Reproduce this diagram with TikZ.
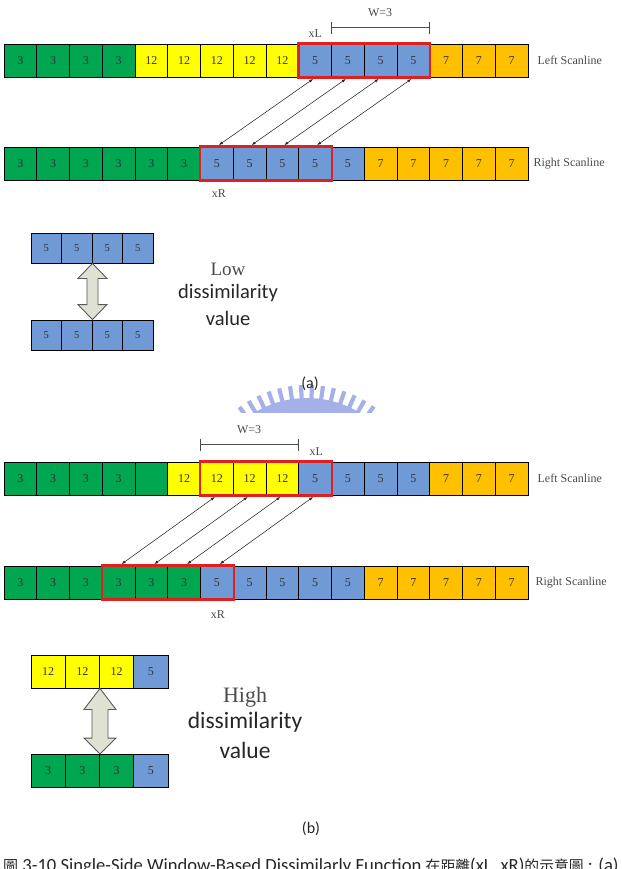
\documentclass[tikz,border=0pt]{standalone}
\usepackage{fontspec}
\setmainfont{Liberation Serif}
\newfontfamily\calfont{Carlito}
\newfontfamily\cjk{Noto Sans CJK TC}
\usetikzlibrary{arrows.meta,calc}
\definecolor{cgreen}{HTML}{00A650}
\definecolor{cyellow}{HTML}{FFFF00}
\definecolor{cblue}{HTML}{6F9AD6}
\definecolor{corange}{HTML}{FFC000}
\definecolor{cred}{HTML}{E0201E}
\definecolor{wmark}{RGB}{165,176,232}
\definecolor{arrfill}{HTML}{DFE2D2}
\definecolor{labgray}{HTML}{4A4A4A}
\tikzset{
  cell/.style={draw=black, line width=0.9pt, minimum width=32.75pt, minimum height=33pt,
    inner sep=0pt, font=\fontsize{12}{12}\selectfont, text=black!80},
  scella/.style={cell, minimum width=30.5pt, minimum height=30pt, font=\fontsize{10.5}{10.5}\selectfont},
  scellb/.style={cell, minimum width=34.25pt, minimum height=33pt, font=\fontsize{12}{12}\selectfont},
  redbox/.style={draw=cred, line width=2.4pt},
  pairarrow/.style={{Latex[length=4pt,width=3pt]}-{Latex[length=4pt,width=3pt]}, line width=0.55pt, black!85},
  fatarrow/.style={draw=black!65, line width=0.9pt, fill=arrfill, line join=miter},
  scan/.style={font=\fontsize{12}{12}\selectfont, text=labgray, anchor=west, inner sep=0pt},
  small/.style={font=\fontsize{12}{12}\selectfont, text=labgray, inner sep=0pt},
  bracket/.style={line width=0.8pt, draw=black!70},
  serifbig/.style={font=\fontsize{19}{19}\selectfont, text=labgray, anchor=base, inner sep=0pt},
  sansbig/.style={font=\calfont\fontsize{20.5}{20.5}\selectfont, text=black!85, anchor=base, inner sep=0pt},
  sublabel/.style={font=\calfont\fontsize{16}{16}\selectfont, text=black!85, inner sep=0pt},
}
\begin{document}
\begin{tikzpicture}[x=1pt,y=-1pt]
\useasboundingbox (0,0) rectangle (621,869);
\clip (0,0) rectangle (621,869);

% ---------------- (a) ----------------
\foreach \c/\v [count=\i from 0] in {cgreen/3,cgreen/3,cgreen/3,cgreen/3,cyellow/12,cyellow/12,cyellow/12,cyellow/12,cyellow/12,cblue/5,cblue/5,cblue/5,cblue/5,corange/7,corange/7,corange/7}
  \node[cell, fill=\c] (aL\i) at ({4+32.75*(\i+0.5)}, 60.5) {\v};
\foreach \c/\v [count=\i from 0] in {cgreen/3,cgreen/3,cgreen/3,cgreen/3,cgreen/3,cgreen/3,cblue/5,cblue/5,cblue/5,cblue/5,cblue/5,corange/7,corange/7,corange/7,corange/7,corange/7}
  \node[cell, fill=\c] (aR\i) at ({4+32.75*(\i+0.5)}, 163.5) {\v};
\draw[redbox] (aL9.north west) rectangle (aL12.south east);
\draw[redbox] (aR6.north west) rectangle (aR9.south east);
\foreach \t/\b in {9/6,10/7,11/8,12/9}
  \draw[pairarrow] ([xshift=-2pt,yshift=-1.5pt]aL\t.south) -- ([xshift=2pt,yshift=1.5pt]aR\b.north);
% bracket W=3
\coordinate (wa1) at ($(aL10.north west)+(0,-16)$);
\coordinate (wa2) at ($(aL13.north west)+(0,-16)$);
\draw[bracket] (wa1) -- (wa2);
\draw[bracket] ($(wa1)+(0,-6)$) -- ($(wa1)+(0,6)$);
\draw[bracket] ($(wa2)+(0,-6)$) -- ($(wa2)+(0,6)$);
\node[small] (wtxa) at ($(wa1)!0.5!(wa2)+(0,-15)$) {W=3};
\node[small] (xla) at ($(aL9.north west)+(17,-10)$) {xL};
\node[small] (xra) at ($(aR6.south)+(2,13)$) {xR};
\node[scan] (lsa) at ($(aL15.east)+(9,0)$) {Left Scanline};
\node[scan] (rsa) at ($(aR15.east)+(5,0)$) {Right Scanline};

% small group (a)
\foreach \i in {1,...,4}{
  \node[scella, fill=cblue] (sa\i) at ({31+30.5*(\i-0.5)}, 248) {5};
  \node[scella, fill=cblue] (sb\i) at ({31+30.5*(\i-0.5)}, 335) {5};
}
\filldraw[fatarrow] let \p1=(sa2.south east), \p2=(sb2.north east) in
  (\x1,\y1) -- (\x1+14.5pt,\y1-15pt) -- (\x1+5.5pt,\y1-15pt) -- (\x1+5.5pt,\y2+15pt) --
  (\x1+14.5pt,\y2+15pt) -- (\x1,\y2) -- (\x1-14.5pt,\y2+15pt) -- (\x1-5.5pt,\y2+15pt) --
  (\x1-5.5pt,\y1-15pt) -- (\x1-14.5pt,\y1-15pt) -- cycle;
\node[serifbig] (lowt) at (228,275) {Low};
\node[sansbig] (dissa) at (228,298) {dissimilarity};
\node[sansbig] (vala) at (228,325) {value};

% watermark
\begin{scope}
  \clip (200,370) rectangle (420,412);
  \fill[wmark] (307,500) circle (102);
  \foreach \a in {-126,-120.5,...,-50}
    \draw[wmark, line width=4.2pt] (307,500) ++(\a:92) -- ++(\a:23);
\end{scope}
\node[sublabel] (cap_a) at (310,384) {(a)};

% ---------------- (b) ----------------
\foreach \c/\v [count=\i from 0] in {cgreen/3,cgreen/3,cgreen/3,cgreen/3,cgreen/{},cyellow/12,cyellow/12,cyellow/12,cyellow/12,cblue/5,cblue/5,cblue/5,cblue/5,corange/7,corange/7,corange/7}
  \node[cell, fill=\c] (bL\i) at ({4+32.75*(\i+0.5)}, 478.5) {\v};
\foreach \c/\v [count=\i from 0] in {cgreen/3,cgreen/3,cgreen/3,cgreen/3,cgreen/3,cgreen/3,cblue/5,cblue/5,cblue/5,cblue/5,cblue/5,corange/7,corange/7,corange/7,corange/7,corange/7}
  \node[cell, fill=\c] (bR\i) at ({4+32.75*(\i+0.5)}, 582.5) {\v};
\draw[redbox] (bL6.north west) rectangle (bL9.south east);
\draw[redbox] (bR3.north west) rectangle (bR6.south east);
\foreach \t/\b in {6/3,7/4,8/5,9/6}
  \draw[pairarrow] ([xshift=-2pt,yshift=-1.5pt]bL\t.south) -- ([xshift=3pt,yshift=1.5pt]bR\b.north);
\coordinate (wb1) at ($(bL6.north west)+(0,-17)$);
\coordinate (wb2) at ($(bL9.north west)+(0,-17)$);
\draw[bracket] (wb1) -- (wb2);
\draw[bracket] ($(wb1)+(0,-6)$) -- ($(wb1)+(0,6)$);
\draw[bracket] ($(wb2)+(0,-6)$) -- ($(wb2)+(0,6)$);
\node[small] (wtxb) at ($(wb1)!0.5!(wb2)+(0,-15)$) {W=3};
\node[small] (xlb) at ($(bL9.north west)+(18,-10)$) {xL};
\node[small] (xrb) at ($(bR6.south)+(1,15)$) {xR};
\node[scan] (lsb) at ($(bL15.east)+(9,0)$) {Left Scanline};
\node[scan] (rsb) at ($(bR15.east)+(7,0)$) {Right Scanline};

% small group (b)
\foreach \c/\v [count=\i from 1] in {cyellow/12,cyellow/12,cyellow/12,cblue/5}
  \node[scellb, fill=\c] (sc\i) at ({31+34.25*(\i-0.5)}, 671.5) {\v};
\foreach \c/\v [count=\i from 1] in {cgreen/3,cgreen/3,cgreen/3,cblue/5}
  \node[scellb, fill=\c] (sd\i) at ({31+34.25*(\i-0.5)}, 771) {\v};
\filldraw[fatarrow] let \p1=(sc2.south east), \p2=(sd2.north east) in
  (\x1,\y1) -- (\x1+16pt,\y1-21pt) -- (\x1+8pt,\y1-21pt) -- (\x1+8pt,\y2+16pt) --
  (\x1+16pt,\y2+16pt) -- (\x1,\y2) -- (\x1-16pt,\y2+16pt) -- (\x1-8pt,\y2+16pt) --
  (\x1-8pt,\y1-21pt) -- (\x1-16pt,\y1-21pt) -- cycle;
\node[serifbig, font=\fontsize{22}{22}\selectfont] (hight) at (245,702) {High};
\node[sansbig, font=\calfont\fontsize{23.5}{23.5}\selectfont] (dissb) at (245,728) {dissimilarity};
\node[sansbig, font=\calfont\fontsize{23.5}{23.5}\selectfont] (valb) at (245,758) {value};
\node[sublabel] (cap_b) at (311,829) {(b)};

% caption (cut at the bottom edge, as in the reference)
\node[anchor=base west, inner sep=0pt, font=\calfont\fontsize{18.6}{18.6}\selectfont, text=black!85] (caption) at (3,871.5)
  {{\cjk\fontsize{15}{15}\selectfont 圖} 3-10 Single-Side Window-Based Dissimilarly Function {\cjk\fontsize{14.8}{14.8}\selectfont 在距離}(xL, xR){\cjk\fontsize{14.8}{14.8}\selectfont 的示意圖} : (a)};
\end{tikzpicture}
\end{document}
